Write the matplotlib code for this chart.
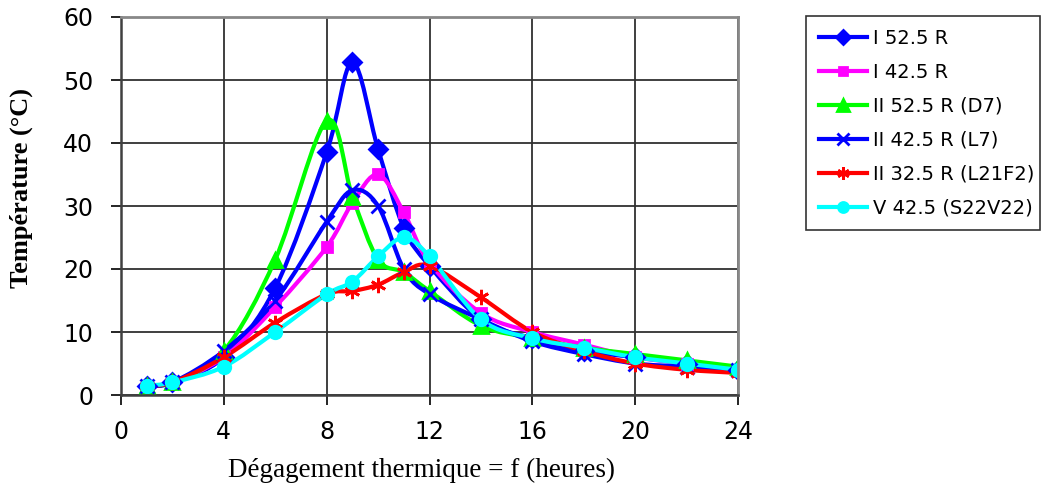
import matplotlib.pyplot as plt
from matplotlib.path import Path
from matplotlib.patches import PathPatch
from matplotlib.lines import Line2D

hours = [1, 2, 4, 6, 8, 9, 10, 11, 12, 14, 16, 18, 20, 22, 24]

i_525 = [1.5, 2, 6, 17, 38.5, 52.8, 39, 26.5, 20.5, 12, 9, 7, 6, 5, 4]
i_425 = [1.5, 2, 6, 14, 23.5, 30.5, 35, 29, 21, 13, 10, 8, 6, 5, 4]
ii_525 = [1.5, 2, 7, 21.5, 43.5, 31.5, 21.5, 19.5, 16.5, 11, 9, 7.5, 6.5, 5.5, 4.5]
ii_425 = [1.5, 2, 7, 15, 27.5, 32.5, 30, 20, 16, 12, 8.5, 6.5, 5, 4.5, 4]
ii_325 = [1.5, 2, 6, 11.5, 16, 16.5, 17.5, 19.5, 20.5, 15.5, 10, 7, 5, 4, 3.5]
v_425 = [1.5, 2, 4.5, 10, 16, 18, 22, 25, 22, 12, 9, 7.5, 6, 5, 4]

labels = ['I 52.5 R', 'I 42.5 R', 'II 52.5 R (D7)', 'II 42.5 R (L7)',
          'II 32.5 R (L21F2)', 'V 42.5 (S22V22)']
series = [i_525, i_425, ii_525, ii_425, ii_325, v_425]
colors = ['#0000ff', '#ff00ff', '#00ff00', '#0000ff', '#ff0000', '#00ffff']
markers = ['D', 's', '^', 'x', (6, 2, 0), 'o']
sizes = [9, 7, 10, 10, 11, 9]


def smooth_path(xs, ys):
    # Excel-like smoothed line: cubic Bezier through every point
    pts = list(zip(xs, ys))
    verts = [pts[0]]
    codes = [Path.MOVETO]
    n = len(pts)
    for k in range(n - 1):
        p0 = pts[k - 1] if k > 0 else pts[k]
        p1 = pts[k]
        p2 = pts[k + 1]
        p3 = pts[k + 2] if k + 2 < n else pts[k + 1]
        c1 = (p1[0] + (p2[0] - p0[0]) / 6, p1[1] + (p2[1] - p0[1]) / 6)
        c2 = (p2[0] - (p3[0] - p1[0]) / 6, p2[1] - (p3[1] - p1[1]) / 6)
        verts += [c1, c2, p2]
        codes += [Path.CURVE4] * 3
    return Path(verts, codes)


fig = plt.figure(figsize=(10.41, 4.9), dpi=100)
ax = fig.add_axes([121/1041, 1-395/490, (738-121)/1041, (395-17)/490])

handles = []
for vals, c, m, s, lab in zip(series, colors, markers, sizes, labels):
    ax.add_patch(PathPatch(smooth_path(hours, vals), facecolor='none',
                           edgecolor=c, lw=3, capstyle='round', joinstyle='round'))
    ax.plot(hours, vals, linestyle='none', marker=m, ms=s, color=c, mew=2)
    handles.append(Line2D([], [], color=c, lw=3, marker=m, ms=s * 0.8, mew=2, label=lab))

ax.set_xlim(0, 24)
ax.set_ylim(0, 60)
ax.set_xticks(range(0, 25, 4))
ax.set_yticks(range(0, 61, 10))
ax.grid(True, color='#303030', lw=1.3)
ax.set_axisbelow(True)
for s in ['top', 'right']:
    ax.spines[s].set_color('#888888')
    ax.spines[s].set_linewidth(2)
for s in ['left', 'bottom']:
    ax.spines[s].set_linewidth(1.8)
    ax.spines[s].set_color('#404040')
ax.tick_params(labelsize=17, length=7, width=1.2, direction='out')
ax.tick_params(axis='x', pad=11)
ax.tick_params(axis='y', pad=13)
for t in ax.get_xticklabels() + ax.get_yticklabels():
    t.set_family('DejaVu Sans')

ax.set_ylabel('Température (°C)', family='Liberation Serif', fontweight='bold', fontsize=19)
ax.set_xlabel('Dégagement thermique = f (heures)', family='Liberation Serif', fontsize=19.5)
ax.yaxis.set_label_coords(-0.143, 0.548)
ax.xaxis.set_label_coords(0.487, -0.165)

leg = fig.legend(handles=handles, loc='upper left',
                 bbox_to_anchor=(806/1041, 1-16/490, (1040-806)/1041, 0.0),
                 mode='expand', prop={'family': 'DejaVu Sans', 'size': 14},
                 frameon=True, fancybox=False, edgecolor='black', handlelength=2.5,
                 labelspacing=0.77, borderpad=0.65, handletextpad=0.3,
                 borderaxespad=0)
leg.get_frame().set_linewidth(1.2)

fig.savefig('out.png', dpi=100)
